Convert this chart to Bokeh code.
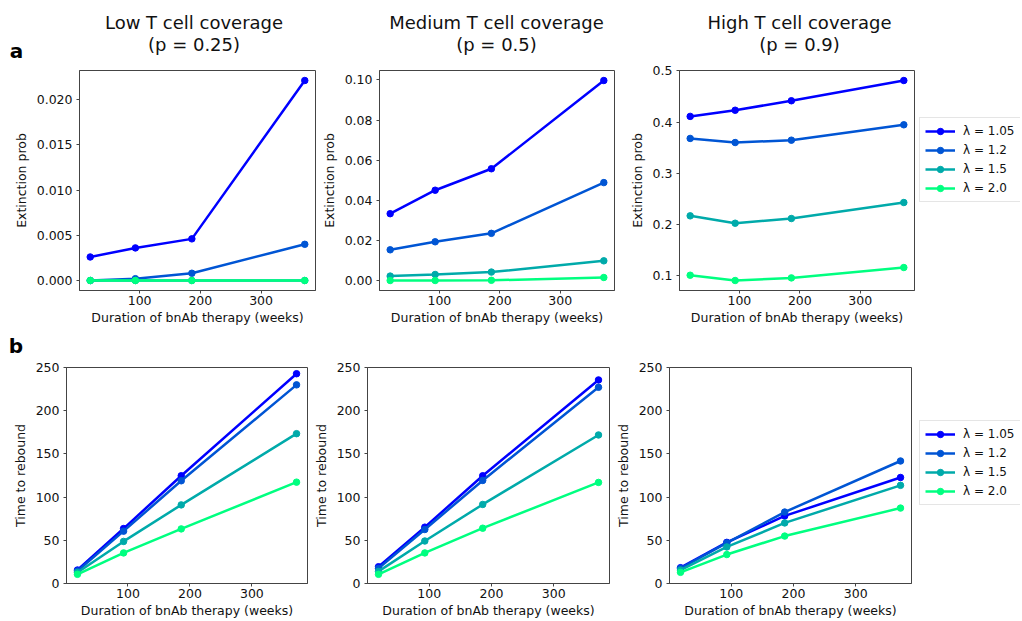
from bokeh.plotting import figure
from bokeh.layouts import row, column
from bokeh.models import (Range1d, FixedTicker, PrintfTickFormatter, Label, Legend,
                          LegendItem)
from bokeh.embed import file_html
from bokeh.resources import INLINE

# ---------------- data ----------------
weeks = [18.6, 93, 186, 372]
lambda_labels = ["λ = 1.05", "λ = 1.2", "λ = 1.5", "λ = 2.0"]
colors = ["#0000ff", "#0055d4", "#00aaaa", "#00ff80"]

title_lines_1 = ["Low T cell coverage", "Medium T cell coverage", "High T cell coverage"]
title_lines_2 = ["(p = 0.25)", "(p = 0.5)", "(p = 0.9)"]

# Extinction probability, low coverage (p = 0.25)
ext_low_l105 = [0.0026, 0.0036, 0.0046, 0.0221]
ext_low_l12 = [0.0, 0.0002, 0.0008, 0.0040]
ext_low_l15 = [0.0, 0.0, 0.0, 0.0]
ext_low_l20 = [0.0, 0.0, 0.0, 0.0]

# Extinction probability, medium coverage (p = 0.5)
ext_med_l105 = [0.0333, 0.0450, 0.0557, 0.0997]
ext_med_l12 = [0.0153, 0.0193, 0.0235, 0.0488]
ext_med_l15 = [0.0022, 0.0030, 0.0042, 0.0098]
ext_med_l20 = [0.0, 0.0, 0.0001, 0.0015]

# Extinction probability, high coverage (p = 0.9)
ext_high_l105 = [0.411, 0.423, 0.4415, 0.481]
ext_high_l12 = [0.368, 0.360, 0.3646, 0.3946]
ext_high_l15 = [0.217, 0.2026, 0.2118, 0.243]
ext_high_l20 = [0.1012, 0.0909, 0.0960, 0.1162]

# Time to rebound
reb_low_l105 = [15.6, 63.6, 124.7, 242.8]
reb_low_l12 = [14.5, 60.6, 118.9, 229.9]
reb_low_l15 = [12.8, 48.7, 91.0, 173.4]
reb_low_l20 = [10.6, 35.4, 63.2, 117.3]

reb_med_l105 = [19.4, 65.2, 124.7, 235.6]
reb_med_l12 = [17.5, 62.5, 119.3, 227.1]
reb_med_l15 = [14.0, 49.2, 91.5, 171.9]
reb_med_l20 = [10.6, 35.4, 64.0, 117.0]

reb_high_l105 = [18.3, 47.6, 78.2, 122.7]
reb_high_l12 = [17.5, 47.0, 82.7, 141.8]
reb_high_l15 = [15.5, 42.3, 70.1, 113.6]
reb_high_l20 = [12.9, 33.5, 54.9, 87.3]

x_ticks = [100, 200, 300]
ext_low_ticks = [0.0, 0.005, 0.010, 0.015, 0.020]
ext_med_ticks = [0.0, 0.02, 0.04, 0.06, 0.08, 0.10]
ext_high_ticks = [0.1, 0.2, 0.3, 0.4, 0.5]
reb_ticks = [0, 50, 100, 150, 200, 250]
reb_limits = (0, 250)

FONT = "DejaVu Sans"
SPINE = "#444444"
TEXT = "#111111"
TOTAL_W = 1020


def padded(vals):
    lo, hi = min(vals), max(vals)
    d = (hi - lo) * 0.05
    return lo - d, hi + d


def bare_fig(width, height, xr, yr):
    p = figure(width=width, height=height, x_range=xr, y_range=yr,
               x_axis_location=None, y_axis_location=None, output_backend="svg",
               toolbar_location=None, min_border_left=0, min_border_right=0,
               min_border_top=0, min_border_bottom=0)
    p.title.visible = False
    p.outline_line_color = None
    p.background_fill_color = "white"
    p.border_fill_color = "white"
    p.xgrid.grid_line_color = None
    p.ygrid.grid_line_color = None
    return p


def text_strip(height, y_top):
    # a strip whose data units are page pixels (y grows downwards)
    return bare_fig(TOTAL_W, height, Range1d(0, TOTAL_W), Range1d(y_top + height, y_top))


def add_text(p, x, y, text, size, bold=False, align="left"):
    p.add_layout(Label(x=x, y=y, text=text, text_align=align, text_baseline="alphabetic",
                       text_font=FONT, text_font_size=size,
                       text_font_style="bold" if bold else "normal",
                       text_color="black" if bold else TEXT))


def legend_fig(width, height, loc, series):
    # the legend sits in its own frame; its renderers hold the panel's series,
    # which fall outside this frame's ranges and so are not seen
    p = bare_fig(width, height, Range1d(-2, -1), Range1d(-2, -1))
    items = []
    for ys, col, lab in zip(series, colors, lambda_labels):
        r1 = p.line(weeks, ys, line_color=col, line_width=2.5)
        r2 = p.scatter(weeks, ys, size=6.5, fill_color=col, line_color=col)
        items.append(LegendItem(label=lab, renderers=[r1, r2]))
    leg = Legend(items=items, location=loc, margin=0, padding=5, spacing=3,
                 glyph_width=30, glyph_height=16, label_height=16, label_standoff=8,
                 label_text_font=FONT, label_text_font_size="12px",
                 label_text_color=TEXT, border_line_color="#cccccc",
                 border_line_width=1, background_fill_color="white",
                 background_fill_alpha=1.0)
    p.add_layout(leg, "center")
    return p


def make_panel(series, ylim, yticks, yfmt, ylabel, width, height, bl, br, bt, bb):
    x0, x1 = padded(weeks)
    p = figure(width=width, height=height, x_range=Range1d(x0, x1),
               y_range=Range1d(*ylim), output_backend="svg", toolbar_location=None,
               min_border_left=bl, min_border_right=br, min_border_top=bt,
               min_border_bottom=bb)
    p.background_fill_color = "white"
    p.border_fill_color = "white"
    p.outline_line_color = SPINE
    p.outline_line_width = 1
    p.xgrid.visible = False
    p.ygrid.visible = False

    for ax in (p.xaxis[0], p.yaxis[0]):
        ax.axis_line_color = SPINE
        ax.major_tick_line_color = SPINE
        ax.major_tick_out = 3
        ax.major_tick_in = 0
        ax.minor_tick_line_color = None
        ax.major_label_text_font = FONT
        ax.major_label_text_font_size = "12.5px"
        ax.major_label_text_color = TEXT
        ax.axis_label_text_font = FONT
        ax.axis_label_text_font_size = "12.5px"
        ax.axis_label_text_font_style = "normal"
        ax.axis_label_text_color = TEXT
    p.xaxis.major_label_standoff = 2
    p.xaxis.axis_label_standoff = 2
    p.yaxis.major_label_standoff = 4
    p.yaxis.axis_label_standoff = 5

    p.xaxis.ticker = FixedTicker(ticks=x_ticks)
    p.yaxis.ticker = FixedTicker(ticks=yticks)
    p.yaxis.formatter = PrintfTickFormatter(format=yfmt)
    p.xaxis.axis_label = "Duration of bnAb therapy (weeks)"
    p.yaxis.axis_label = ylabel

    for ys, col in zip(series, colors):
        p.line(weeks, ys, line_color=col, line_width=2.5)
        p.scatter(weeks, ys, size=6.5, fill_color=col, line_color=col)
    return p


ext_low = [ext_low_l105, ext_low_l12, ext_low_l15, ext_low_l20]
ext_med = [ext_med_l105, ext_med_l12, ext_med_l15, ext_med_l20]
ext_high = [ext_high_l105, ext_high_l12, ext_high_l15, ext_high_l20]
reb_low = [reb_low_l105, reb_low_l12, reb_low_l15, reb_low_l20]
reb_med = [reb_med_l105, reb_med_l12, reb_med_l15, reb_med_l20]
reb_high = [reb_high_l105, reb_high_l12, reb_high_l15, reb_high_l20]


def allvals(s):
    return [v for ys in s for v in ys]


# ---------------- layout (page pixels) ----------------
HEAD_H = 62
BTA, FHA, BBA = 8, 220, 43
HA = BTA + FHA + BBA
GAP_H = 25
BTB, FHB, BBB = 9, 218, 35
HB = BTB + FHB + BBB

header = text_strip(HEAD_H, 0)
title_x = [193.5, 496.0, 799.0]
for cx, t1, t2 in zip(title_x, title_lines_1, title_lines_2):
    add_text(header, cx, 21.7, t1, "18px", align="center")
    add_text(header, cx, 44.3, t2, "18px", align="center")
add_text(header, 9.3, 50.0, "a", "20px", bold=True)

a1 = make_panel(ext_low, padded(allvals(ext_low)), ext_low_ticks, "%.3f", "Extinction prob",
                318, HA, 79, 3, BTA, BBA)
a2 = make_panel(ext_med, padded(allvals(ext_med)), ext_med_ticks, "%.2f", "Extinction prob",
                299, HA, 60, 3, BTA, BBA)
a3 = make_panel(ext_high, padded(allvals(ext_high)), ext_high_ticks, "%.1f", "Extinction prob",
                298, HA, 62, 1, BTA, BBA)
legA = legend_fig(TOTAL_W - 318 - 299 - 298, HA, (4, 88), ext_high)

gap_top = HEAD_H + HA
gap = text_strip(GAP_H, gap_top)
add_text(gap, 8.3, 345.5, "b", "20px", bold=True)

b1 = make_panel(reb_low, reb_limits, reb_ticks, "%d", "Time to rebound",
                310, HB, 66, 3, BTB, BBB)
b2 = make_panel(reb_med, reb_limits, reb_ticks, "%d", "Time to rebound",
                302, HB, 57, 3, BTB, BBB)
b3 = make_panel(reb_high, reb_limits, reb_ticks, "%d", "Time to rebound",
                300, HB, 57, 1, BTB, BBB)
legB = legend_fig(TOTAL_W - 310 - 302 - 300, HB, (7, 78), reb_high)

layout = column(header, row(a1, a2, a3, legA), gap, row(b1, b2, b3, legB))
open("out.html", "w").write(file_html(layout, INLINE))
